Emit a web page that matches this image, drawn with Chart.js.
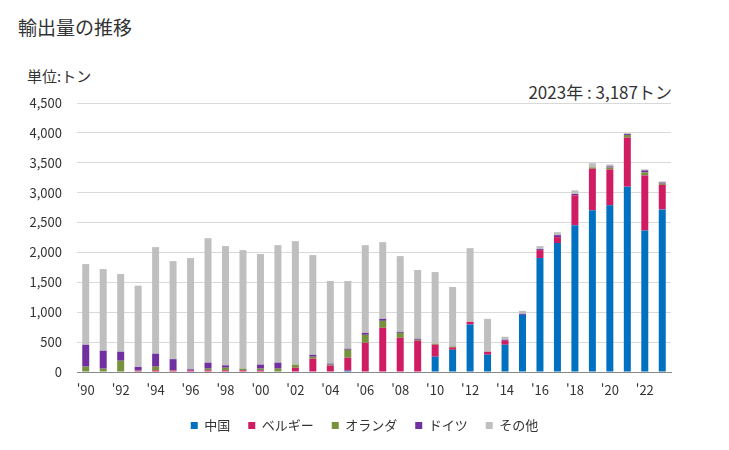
<!DOCTYPE html>
<html lang="ja">
<head>
<meta charset="utf-8">
<script src="https://cdn.jsdelivr.net/npm/chart.js@4"></script>
<style>
  html, body { margin: 0; padding: 0; background: #fff; }
  body { width: 729px; height: 450px; position: relative; overflow: hidden;
         font-family: "Noto Sans CJK JP", "Noto Sans", sans-serif; color: #333; }
  #title { position: absolute; left: 18px; top: 13px; font-size: 19px; }
  #unit { position: absolute; left: 27px; top: 65px; font-size: 15px; }
  #latest { position: absolute; right: 57px; top: 79px; font-size: 17px; }
  #wrap { position: absolute; left: 0; top: 0; width: 729px; height: 450px; }
</style>
</head>
<body>
<div id="title">輸出量の推移</div>
<div id="unit">単位:トン</div>
<div id="latest">2023年 : 3,187トン</div>
<div id="wrap"><canvas id="myChart" width="729" height="450"></canvas></div>
<script>
// 年（1990〜2023）
const years = ['1990','1991','1992','1993','1994','1995','1996','1997','1998','1999',
    '2000','2001','2002','2003','2004','2005','2006','2007','2008','2009',
    '2010','2011','2012','2013','2014','2015','2016','2017','2018','2019',
    '2020','2021','2022','2023'];
const seriesNames = ['中国', 'ベルギー', 'オランダ', 'ドイツ', 'その他'];
const china = [0,0,0,0,0,0,0,0,0,0, 0,0,0,0,0,22,0,0,0,0,
    256,372,794,289,456,956,1906,2156,2456,2706, 2789,3100,2367,2720];
const belgium = [0,0,0,20,28,25,25,28,28,28, 28,0,72,222,106,217,489,739,572,522,
    200,39,44,50,67,0,133,100,500,694, 600,822,922,411];
const netherlands = [90,56,189,5,61,5,0,28,44,28, 28,56,50,33,17,133,133,117,83,17,
    17,17,0,0,0,0,0,0,0,22, 33,44,50,22];
const germany = [365,300,150,60,217,185,20,100,39,0, 67,100,0,33,17,17,33,33,17,17,
    0,0,0,0,17,17,17,33,22,0, 17,17,33,17];
const others = [1350,1366,1300,1359,1783,1640,1861,2083,1995,1983, 1850,1966,2067,1668,1382,1133,1467,1283,1267,1150,
    1199,994,1234,550,50,50,50,50,61,72, 33,11,17,17];
const yTicks = [0, 500, 1000, 1500, 2000, 2500, 3000, 3500, 4000, 4500];

const colors = ['#0070C0', '#D01C62', '#76923C', '#7030A0', '#BFBFBF'];
const values = [china, belgium, netherlands, germany, others];

const ctx = document.getElementById('myChart').getContext('2d');
const myChart = new Chart(ctx, {
    type: 'bar',
    data: {
        labels: years,
        datasets: seriesNames.map((name, i) => ({
            label: name,
            data: values[i],
            backgroundColor: colors[i],
            borderWidth: 0,
            barPercentage: 0.4,
            categoryPercentage: 1
        }))
    },
    options: {
        responsive: false,
        animation: false,
        layout: { padding: { top: 103, right: 0, bottom: 8, left: 0 } },
        font: { family: '"Noto Sans CJK JP", "Noto Sans", sans-serif' },
        plugins: {
            tooltip: { enabled: false },
            legend: {
                position: 'bottom',
                labels: {
                    boxWidth: 7,
                    boxHeight: 7,
                    padding: 18,
                    color: '#333',
                    font: { size: 13, family: '"Noto Sans CJK JP", sans-serif' }
                }
            }
        },
        scales: {
            x: {
                stacked: true,
                grid: { display: false, drawTicks: false },
                border: { color: '#888', width: 1 },
                ticks: {
                    autoSkip: false,
                    maxRotation: 0,
                    padding: 10,
                    color: '#333',
                    font: { size: 13 },
                    callback: function (v, i) {
                        return i % 2 === 0 ? "'" + years[i].slice(2) : '';
                    }
                },
                afterFit: function (scale) { scale.height = 29; }
            },
            y: {
                stacked: true,
                min: 0,
                max: 4500,
                afterBuildTicks: function (scale) {
                    scale.ticks = yTicks.map(v => ({ value: v }));
                },
                afterFit: function (scale) { scale.width = 77; },
                grid: { color: '#D9D9D9', drawTicks: false },
                border: { display: false },
                ticks: {
                    padding: 15,
                    color: '#333',
                    font: { size: 13 },
                    callback: v => v.toLocaleString('en-US')
                }
            },
            // 右側の余白用（凡例を画面中央に置くため）
            yRight: {
                position: 'right',
                display: true,
                grid: { display: false, drawTicks: false },
                border: { display: false },
                ticks: { display: false },
                afterFit: function (scale) { scale.width = 58; }
            }
        }
    }
});
</script>
</body>
</html>
